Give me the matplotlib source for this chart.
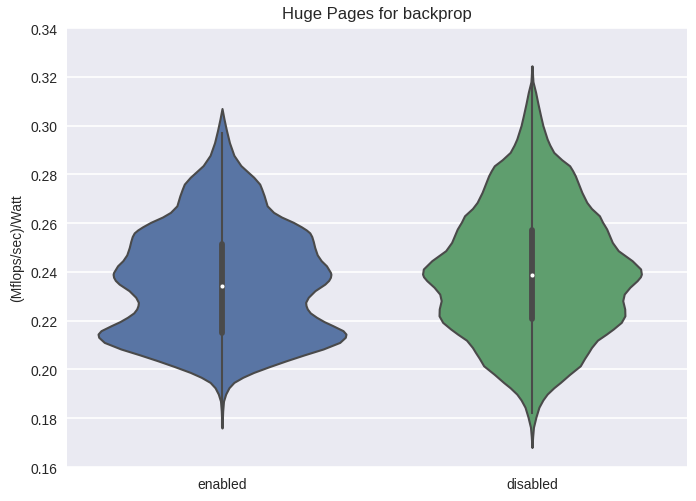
import numpy as np
import matplotlib
matplotlib.use("Agg")
import matplotlib.pyplot as plt

categories = ["enabled", "disabled"]
title = "Huge Pages for backprop"
ylabel = "(Mflops/sec)/Watt"
yticks = [0.16, 0.18, 0.20, 0.22, 0.24, 0.26, 0.28, 0.30, 0.32, 0.34]

# Density profile (value, relative density)
enabled_y = [0.176, 0.183, 0.187, 0.1899, 0.1925, 0.1947, 0.1968, 0.1988, 0.2012, 0.2036,
             0.2060, 0.2084, 0.2111, 0.2132, 0.2145, 0.2159, 0.2179, 0.2196, 0.2214, 0.2232,
             0.2248, 0.2262, 0.2275, 0.2296, 0.2323, 0.2350, 0.2365, 0.2378, 0.2390, 0.2398,
             0.2425, 0.2446, 0.2470, 0.2500, 0.2525, 0.2545, 0.2560, 0.2572, 0.2585, 0.2603,
             0.2625, 0.2644, 0.2671, 0.2712, 0.2740, 0.2760, 0.2788, 0.2810, 0.2836, 0.2878,
             0.2930, 0.2980, 0.3027, 0.307]
enabled_d = [0, 0.7, 1.5, 3.7, 7, 12, 21, 32, 48, 65,
             83, 102, 118.7, 124.3, 125, 122, 112, 103, 95.3, 89,
             86, 84.7, 84.3, 87, 93.7, 103.7, 107.5, 109.3, 109.8, 109.3,
             105.3, 100, 96, 93.5, 92, 90.5, 88.5, 85, 80, 72,
             60, 52, 45.5, 42.5, 40, 38, 32, 26, 19, 12,
             7.5, 4.5, 2, 0]
disabled_y = [0.168, 0.1725, 0.1763, 0.1805, 0.1845, 0.1875, 0.1899, 0.1925, 0.1947, 0.1980,
              0.2015, 0.2045, 0.2070, 0.2090, 0.2120, 0.2145, 0.2166, 0.2193, 0.2220, 0.2248,
              0.2282, 0.2309, 0.2337, 0.2364, 0.2380, 0.2391, 0.2412, 0.2446, 0.2487, 0.2521,
              0.2550, 0.2576, 0.2605, 0.2630, 0.2660, 0.2685, 0.2726, 0.2760, 0.2794, 0.2815,
              0.2835, 0.2860, 0.2890, 0.2920, 0.2945, 0.3000, 0.3040, 0.3090, 0.3136, 0.318,
              0.3245]
disabled_d = [0, 0.7, 1.5, 4, 7, 11, 15.3, 22, 28.7, 38,
              48.7, 53, 57, 60, 66, 75, 82, 90, 93.7, 93.5,
              91.5, 93, 98.7, 106, 109.3, 110.3, 109.5, 101, 87, 81,
              78, 75.3, 71, 68, 60, 55.3, 50.3, 47, 43.7, 41,
              38, 30, 22, 18, 15.3, 11, 8.7, 6, 3.7, 1,
              0]

# Box statistics: lower whisker, q25, median, q75, upper whisker
enabled_stats = [0.1767, 0.2150, 0.2343, 0.2516, 0.2968]
disabled_stats = [0.1821, 0.2205, 0.2388, 0.2571, 0.3240]

colors = ["#5975A4", "#5F9E6E"]
gray = "#4A4A4A"

plt.rcParams["font.family"] = ["Liberation Sans", "DejaVu Sans"]
fig = plt.figure(figsize=(6.96, 5.02), dpi=100)
ax = fig.add_axes([0.0963, 0.0677, 0.8907, 0.8745])
ax.set_facecolor("#EAEAF2")
for s in ax.spines.values():
    s.set_visible(False)
ax.set_axisbelow(True)
ax.yaxis.grid(True, color="white", linewidth=1.2)
ax.tick_params(length=0, colors="#262626", labelsize=10, pad=7)

profiles = [(enabled_y, enabled_d), (disabled_y, disabled_d)]
stats = [enabled_stats, disabled_stats]
dmax = max(max(enabled_d), max(disabled_d))
width = 0.8
for i, ((yy, dd), st, c) in enumerate(zip(profiles, stats, colors)):
    yy = np.array(yy)
    hw = np.array(dd) / dmax * width / 2
    ax.fill_betweenx(yy, i - hw, i + hw, facecolor=c, edgecolor=gray, linewidth=1.5,
                     joinstyle="round", zorder=2)
    ax.plot([i, i], [st[0], st[4]], color=gray, linewidth=1.5, zorder=3)
    ax.plot([i, i], [st[1], st[3]], color=gray, linewidth=4.2, solid_capstyle="round", zorder=3)
    ax.scatter([i], [st[2]], s=12, color="white", edgecolor=gray, linewidth=0.4, zorder=4)

ax.set_xlim(-0.5, 1.5)
ax.set_ylim(0.16, 0.34)
ax.set_xticks(range(len(categories)))
ax.set_xticklabels(categories)
ax.set_yticks(yticks)
ax.set_yticklabels([f"{t:.2f}" for t in yticks])
ax.set_title(title, fontsize=12, color="#262626", pad=7)
ax.set_ylabel(ylabel, fontsize=10, color="#262626")
fig.savefig("out.png", dpi=100)
